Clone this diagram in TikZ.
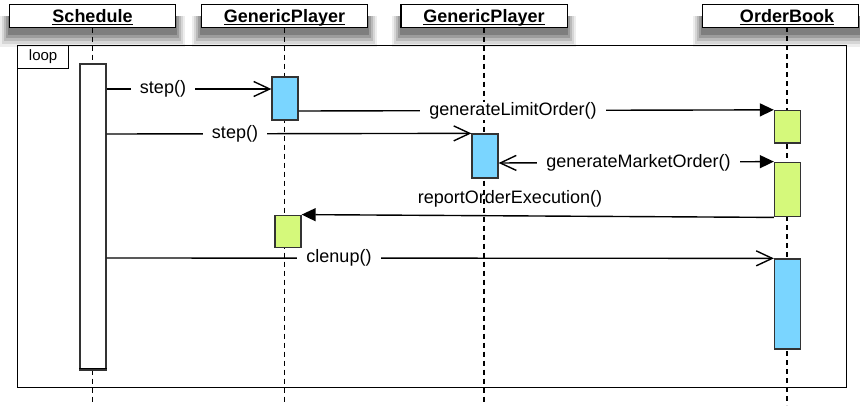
\documentclass[tikz,border=0pt]{standalone}
\usepackage{fontspec}
\setmainfont{Liberation Sans}
\usetikzlibrary{arrows.meta}
\definecolor{actblue}{HTML}{7AD5FF}
\definecolor{actgreen}{HTML}{D5F97B}
\definecolor{edgegray}{HTML}{333333}
\definecolor{shA}{HTML}{EDEDED}
\definecolor{shB}{HTML}{D6D6D6}
\definecolor{shC}{HTML}{BABABA}
\definecolor{shD}{HTML}{9C9C9C}
\definecolor{shE}{HTML}{7E7E7E}
\begin{document}
\begin{tikzpicture}[x=1pt,y=-1pt,
  hdr/.style={draw=black, line width=1.3pt, fill=white, minimum height=22pt, inner sep=0pt},
  hdrtxt/.style={anchor=base, inner sep=0pt, font=\fontsize{18}{20}\selectfont\bfseries},
  uline/.style={line width=1.5pt},
  life/.style={line width=1.1pt, dash pattern=on 5pt off 4pt},
  act/.style={draw=edgegray, line width=1.3pt, inner sep=0pt, minimum width=26pt},
  msg/.style={line width=1.4pt},
  lbl/.style={fill=white, inner xsep=9pt, inner ysep=1pt, font=\fontsize{18}{20}\selectfont},
  plainlbl/.style={inner sep=1pt, font=\fontsize{18}{20}\selectfont},
  openarr/.style={-{Straight Barb[length=16pt,width=15pt]}},
  syncarr/.style={-{Triangle[length=14pt,width=13pt]}},
  frame/.style={draw=black, line width=1.2pt, inner sep=0pt, anchor=north west},
]
\useasboundingbox (0,0) rectangle (860,405);

% headers
\node[hdr, minimum width=165pt] (hS) at (92.5,16) {};
\node[hdr, minimum width=165pt] (hG1) at (284.5,16) {};
\node[hdr, minimum width=165pt] (hG2) at (484,16) {};
\node[hdr, minimum width=155pt] (hO) at (780.5,16) {};

% header shadows below the boxes (solid greys, outer lighter)
\foreach \h in {hS,hG1,hG2,hO}{
  \fill[shA] ([xshift=-9pt,yshift=12pt]\h.south west) rectangle ([xshift=9pt,yshift=-19pt]\h.south east);
  \fill[shB] ([xshift=-7pt,yshift=12pt]\h.south west) rectangle ([xshift=7pt,yshift=-16pt]\h.south east);
  \fill[shC] ([xshift=-5pt,yshift=12pt]\h.south west) rectangle ([xshift=5pt,yshift=-13pt]\h.south east);
  \fill[shD] ([xshift=-3pt,yshift=12pt]\h.south west) rectangle ([xshift=3pt,yshift=-10pt]\h.south east);
  \fill[shE] ([xshift=-1pt,yshift=12pt]\h.south west) rectangle ([xshift=1pt,yshift=-7pt]\h.south east);
  \draw[line width=1.3pt, fill=white] (\h.north west) rectangle (\h.south east);
}

\node[hdrtxt] (tS) at (92.5,22.7) {Schedule};
\node[hdrtxt] (tG1) at (284.5,22.7) {GenericPlayer};
\node[hdrtxt] (tG2) at (484,22.7) {GenericPlayer};
\node[hdrtxt] (tO) at (787,22.7) {OrderBook};
\foreach \t in {tS,tG1,tG2,tO}{
  \draw[uline] ([yshift=-1.8pt]\t.base west) -- ([yshift=-1.8pt]\t.base east);
}

% loop frame
\node[frame, minimum width=829pt, minimum height=342pt] (loop) at (17,45) {};
\node[frame, minimum width=51pt, minimum height=23pt, font=\fontsize{15}{17}\selectfont] (tab) at (17,45) {loop};

% lifelines
\coordinate (bot) at (0,405);
\draw[life] (hS.south) -- (hS.south |- bot);
\draw[life] (hG1.south) -- (hG1.south |- bot);
\draw[life] (hG2.south) -- (hG2.south |- bot);
\coordinate (oTop) at (787,27);
\draw[life] (oTop) -- (oTop |- bot);

% activations
\node[act, fill=white, minimum height=306pt] (aS) at (93,217) {};
\draw[line width=1pt] ([yshift=2.5pt]aS.south west) -- ([yshift=2.5pt]aS.south east);
\node[act, fill=actblue, minimum height=43pt] (b1) at (285,98.5) {};
\node[act, fill=actgreen, minimum height=32.5pt] (o1) at (787.5,126.75) {};
\node[act, fill=actblue, minimum height=44pt] (b2) at (485,156) {};
\node[act, fill=actgreen, minimum height=54.5pt] (o2) at (787.5,189.5) {};
\node[act, fill=actgreen, minimum height=32.5pt] (g1) at (288,231.5) {};
\node[act, fill=actblue, minimum height=90pt] (o3) at (787.5,304) {};

% message rows
\coordinate (r1) at (0,89);
\coordinate (r2) at (0,111);
\coordinate (r3) at (0,134);
\coordinate (r4) at (0,163);
\coordinate (r6) at (0,258);

\draw[msg, openarr] (aS.east |- r1) -- (b1.west |- r1);
\node[lbl] (m1) at (163,89) {step()};

\draw[msg, syncarr] (b1.east |- r2) -- (o1.north west);
\node[lbl] (m2) at (513,111) {generateLimitOrder()};

\draw[msg, openarr] (aS.east |- r3) -- (b2.north west);
\node[lbl] (m3) at (235,134) {step()};

\draw[msg, {Straight Barb[length=16pt,width=15pt]}-{Triangle[length=14pt,width=13pt]}] (b2.east |- r4) -- (o2.north west);
\node[lbl] (m4) at (638.5,163) {generateMarketOrder()};

\draw[msg, syncarr] (o2.south west) -- (g1.north east);
\node[plainlbl] (m5) at (510,199) {reportOrderExecution()};

\draw[msg, openarr] (aS.east |- r6) -- (o3.north west);
\node[lbl] (m6) at (339,258) {clenup()};

\end{tikzpicture}
\end{document}
